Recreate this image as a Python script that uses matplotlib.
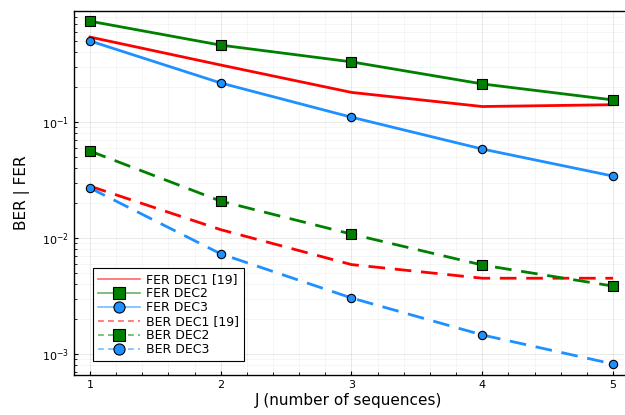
import numpy as np
import matplotlib
matplotlib.use("Agg")
import matplotlib.pyplot as plt
from matplotlib.ticker import MultipleLocator, LogLocator, NullFormatter
from matplotlib.lines import Line2D
from matplotlib.colors import to_rgba

# number of sequences
J = [1, 2, 3, 4, 5]

fer_dec1 = [0.54, 0.31, 0.18, 0.136, 0.141]
fer_dec2 = [0.74, 0.46, 0.33, 0.213, 0.155]
fer_dec3 = [0.50, 0.217, 0.110, 0.0585, 0.0342]

ber_dec1 = [0.028, 0.0118, 0.0059, 0.0045, 0.0045]
ber_dec2 = [0.0562, 0.0208, 0.0108, 0.00585, 0.00385]
ber_dec3 = [0.027, 0.0073, 0.00304, 0.00146, 0.00082]

labels = ["FER DEC1 [19]", "FER DEC2", "FER DEC3", "BER DEC1 [19]", "BER DEC2", "BER DEC3"]

red = "#FF0000"
green = "#008000"
blue = "#1E90FF"

fig = plt.figure(figsize=(6.25, 4.15), dpi=100)
ax = fig.add_axes([0.1184, 0.0964, 0.8800, 0.8771])

lw = 2
dash = (0, (6, 3.5))
ax.plot(J, fer_dec1, color=red, lw=lw)
ax.plot(J, fer_dec2, color=green, lw=lw, marker="s", ms=7, mfc=green, mec="black", mew=0.8)
ax.plot(J, fer_dec3, color=blue, lw=lw, marker="o", ms=6, mfc=blue, mec="black", mew=0.8)
ax.plot(J, ber_dec1, color=red, lw=lw, ls=dash)
ax.plot(J, ber_dec2, color=green, lw=lw, ls=dash, marker="s", ms=7, mfc=green, mec="black", mew=0.8)
ax.plot(J, ber_dec3, color=blue, lw=lw, ls=dash, marker="o", ms=6, mfc=blue, mec="black", mew=0.8)

ax.set_yscale("log")
ax.set_xlim(0.878, 5.084)
ax.set_ylim(0.000659, 0.906)

ax.xaxis.set_major_locator(MultipleLocator(1))
ax.xaxis.set_minor_locator(MultipleLocator(0.2))
ax.yaxis.set_major_locator(LogLocator(base=10))
ax.yaxis.set_minor_locator(LogLocator(base=10, subs=np.arange(2, 10)))
ax.yaxis.set_minor_formatter(NullFormatter())

ax.grid(True, which="major", color="#000000", alpha=0.1, lw=0.6)
ax.grid(True, which="minor", color="#000000", alpha=0.05, lw=0.5)

ax.tick_params(which="both", direction="in", labelsize=8, color="black")
ax.tick_params(which="major", length=3)
ax.tick_params(which="minor", length=2)

for s in ["left", "bottom", "top"]:
    ax.spines[s].set_linewidth(1.0)
ax.spines["right"].set_visible(False)

ax.set_xlabel("J (number of sequences)", fontsize=11, labelpad=2)
ax.set_ylabel("BER | FER", fontsize=11, labelpad=9)

# legend with thinner, lighter lines like the original
leg_dash = (0, (3.5, 2.5))
def leg_line(c, ls="-", marker=None):
    return Line2D([], [], color=to_rgba(c, 0.6), lw=1.2, ls=ls, marker=marker, ms=8,
                  mfc=c, mec="black", mew=0.8)

handles = [
    leg_line(red),
    leg_line(green, marker="s"),
    leg_line(blue, marker="o"),
    leg_line(red, ls=leg_dash),
    leg_line(green, ls=leg_dash, marker="s"),
    leg_line(blue, ls=leg_dash, marker="o"),
]
leg = ax.legend(handles, labels, loc="lower left", bbox_to_anchor=(0.034, 0.038), fontsize=9,
                fancybox=False, edgecolor="black", framealpha=1, borderpad=0.4,
                labelspacing=0.08, handlelength=3.4, handletextpad=0.45, borderaxespad=0)
leg.get_frame().set_linewidth(0.8)

fig.savefig("out.png", dpi=100)
